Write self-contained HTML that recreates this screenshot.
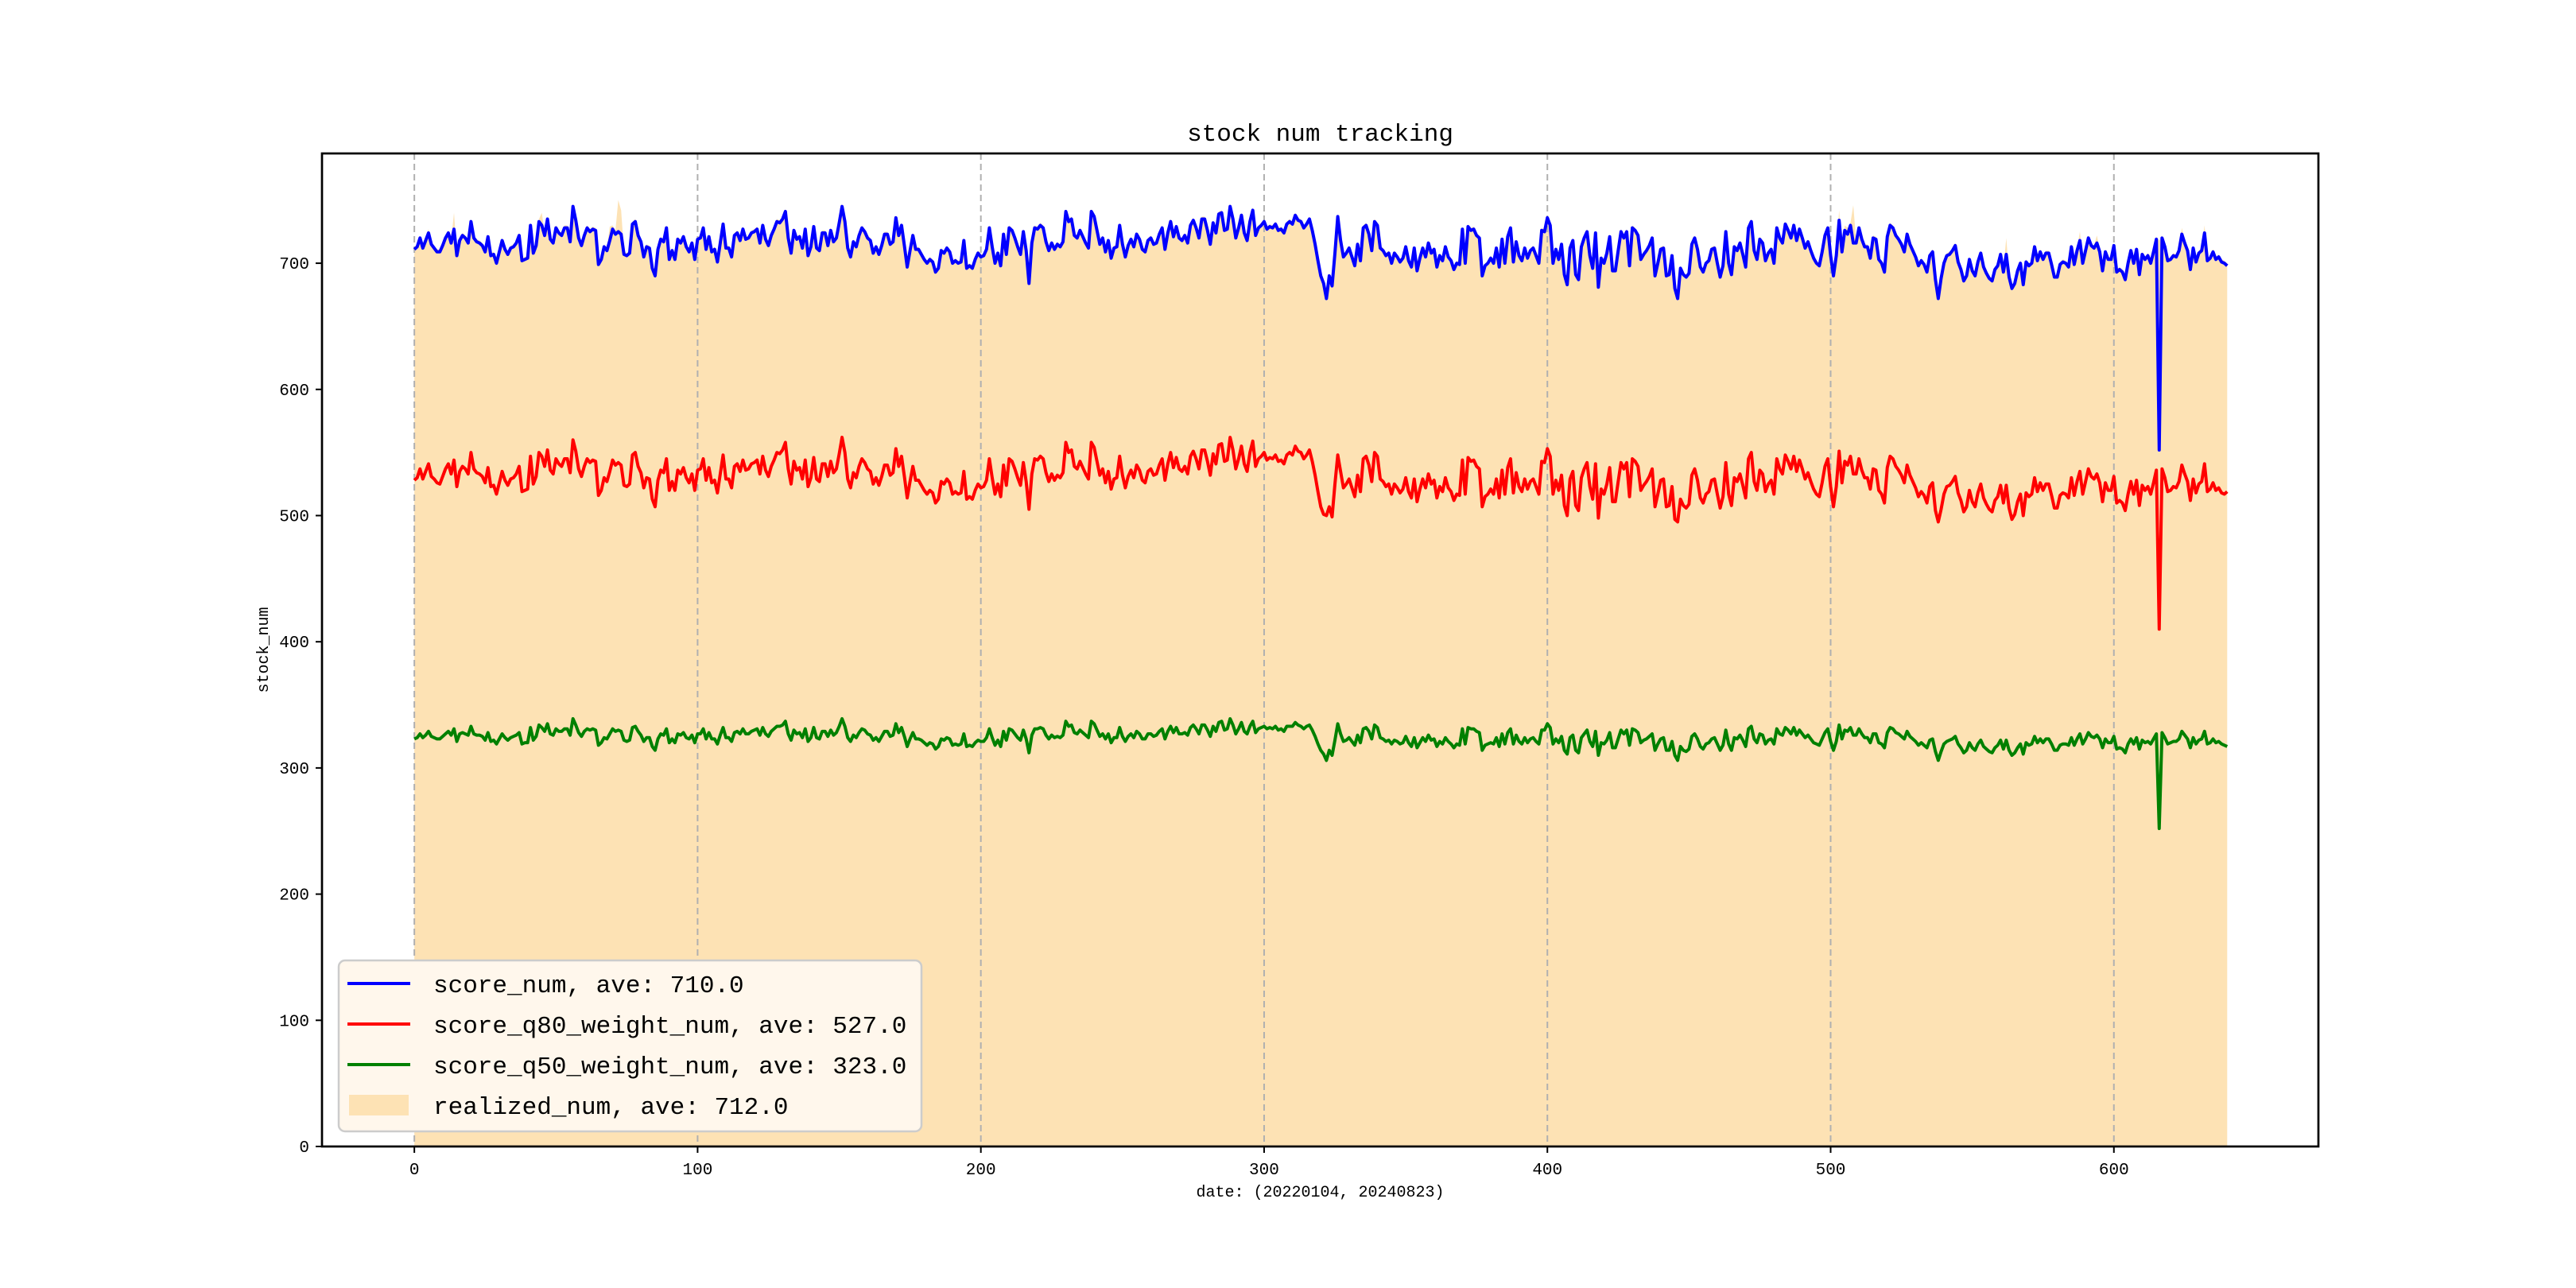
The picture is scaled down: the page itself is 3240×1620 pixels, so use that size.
<!DOCTYPE html>
<html><head><meta charset="utf-8"><title>stock num tracking</title>
<style>html,body{margin:0;padding:0;background:#fff;}svg{display:block;}</style></head>
<body>
<svg id="chart" width="3240" height="1620" viewBox="0 0 3240 1620" xmlns="http://www.w3.org/2000/svg"></svg>
<script>
const xTicks = [0,100,200,300,400,500,600];
const yTicks = [0,100,200,300,400,500,600,700];
const scoreNum = [
711,713,720,712,718,724,715,712,709,709,714,720,724,716,727,706,718,722,720,716,
733,720,717,716,714,709,721,706,707,700,709,718,711,707,712,713,716,722,702,703,
704,730,708,714,733,730,722,735,719,716,728,724,722,728,728,717,745,734,720,714,
722,728,725,727,726,699,703,713,710,718,727,723,725,723,707,706,708,731,733,722,
717,705,713,712,696,690,711,719,717,728,703,710,703,719,716,721,713,709,716,703,
719,720,728,711,721,709,711,701,716,731,712,712,705,722,724,718,727,719,720,724,
725,727,716,730,719,714,722,727,733,732,735,741,720,708,726,719,721,712,727,706,
713,729,712,710,724,724,714,726,717,720,732,745,733,712,705,717,713,722,728,725,
720,718,708,713,707,714,723,723,715,717,736,722,730,714,697,710,722,711,711,707,
703,700,703,701,693,696,710,708,712,709,700,702,700,701,718,696,698,696,703,708,
705,706,711,728,713,700,708,698,723,707,728,726,720,713,707,725,710,684,716,728,
727,730,728,717,710,716,711,715,713,717,741,733,735,722,720,726,721,716,712,741,
737,726,715,720,709,718,704,712,713,730,715,705,714,719,713,723,719,711,709,718,
720,715,716,723,728,711,724,733,721,729,720,718,722,716,730,734,728,720,735,735,
726,715,732,724,739,740,726,727,745,735,720,728,738,724,718,733,742,722,728,730,
733,727,729,728,731,726,727,724,731,733,731,738,734,733,728,731,735,726,715,702,
690,684,672,690,682,708,737,718,705,708,712,705,698,715,702,728,730,723,710,733,
730,712,710,706,708,700,708,705,701,704,713,702,697,712,694,704,712,705,716,708,
711,697,706,702,713,705,702,695,700,699,727,700,729,726,727,722,720,690,698,700,
704,700,712,697,719,700,721,728,701,717,706,702,712,704,710,712,706,700,726,725,
736,730,700,711,703,715,691,683,712,718,691,687,713,720,725,706,696,724,681,704,
700,708,721,694,694,710,725,720,725,698,728,726,722,703,707,710,714,720,690,700,
711,712,690,691,706,680,672,696,691,689,692,715,720,711,697,693,700,702,711,712,
700,689,698,725,700,691,713,710,716,707,697,728,733,710,703,719,716,702,708,711,
700,728,720,716,731,726,720,730,718,727,720,712,717,710,704,700,698,709,722,728,
706,690,706,734,709,726,723,730,716,716,728,719,713,713,704,720,719,703,700,693,
721,730,728,722,719,715,709,723,715,710,705,698,702,699,693,706,709,687,672,688,
700,706,707,710,714,701,695,686,690,703,694,690,701,708,697,692,688,686,695,698,
707,693,707,689,680,684,694,700,683,701,698,700,713,702,709,703,708,708,699,689,
689,699,701,700,697,713,699,710,718,700,710,720,714,712,716,709,694,709,703,703,
714,693,695,693,687,700,710,700,711,691,707,703,706,700,709,719,552,720,713,702,
703,706,705,710,723,716,710,695,712,701,708,710,724,702,704,709,703,705,701,700,
698];
const q80Num = [
528,530,537,529,535,541,531,529,526,525,531,537,541,533,544,523,535,539,537,533,
550,537,534,533,531,526,538,523,524,517,526,535,528,524,529,530,533,539,519,520,
521,547,525,531,550,547,539,552,536,533,545,541,539,545,545,534,560,551,537,531,
539,545,542,544,543,516,520,530,527,535,544,540,542,540,524,523,525,548,550,539,
534,522,530,529,513,507,528,536,534,545,520,527,520,536,533,538,530,526,533,520,
536,537,545,528,538,526,528,518,533,548,529,529,522,539,541,535,544,536,537,541,
542,544,533,547,536,531,539,544,550,549,552,558,537,525,543,536,538,529,544,523,
530,546,529,527,541,541,531,543,534,537,549,562,550,529,522,534,530,539,545,542,
537,535,525,530,524,531,540,540,532,534,553,539,547,531,514,527,539,528,528,524,
520,517,520,518,510,513,527,525,529,526,517,519,517,518,535,513,515,513,520,525,
522,523,528,545,530,517,525,515,540,524,545,543,537,530,524,542,527,505,533,545,
544,547,545,534,527,533,528,532,530,534,558,550,552,539,537,543,538,533,529,558,
554,543,532,537,526,535,521,529,530,547,532,522,531,536,530,540,536,528,526,535,
537,532,533,540,545,528,541,550,538,546,537,535,539,533,547,551,545,537,552,552,
543,532,549,541,556,557,543,544,562,552,537,545,555,541,535,550,559,539,545,547,
550,544,546,545,548,543,544,541,548,550,548,555,551,550,545,548,552,543,532,519,
507,501,500,507,499,525,548,535,522,525,529,522,515,532,519,545,547,540,527,550,
547,529,527,523,525,517,525,522,518,521,530,519,514,529,511,521,529,522,533,525,
528,514,523,519,530,522,519,512,517,516,544,517,546,543,544,539,537,507,515,517,
521,517,529,514,536,517,538,545,518,534,523,519,529,521,527,529,523,517,543,542,
553,547,517,528,520,532,508,500,529,535,508,504,530,537,542,523,513,541,498,521,
517,525,538,511,511,527,542,537,542,515,545,543,539,520,524,527,531,537,507,517,
528,529,507,508,523,497,495,513,508,506,509,532,537,528,514,510,517,519,528,529,
517,506,515,542,517,508,530,527,533,524,514,545,550,527,520,536,533,519,525,528,
517,545,537,533,548,543,537,547,535,544,537,529,534,527,521,517,515,526,539,545,
523,507,523,551,526,543,540,547,533,533,545,536,530,530,521,537,536,520,517,510,
538,547,545,539,536,532,526,540,532,527,522,515,519,516,510,523,526,504,495,505,
517,523,524,527,531,518,512,503,507,520,511,507,518,525,514,509,505,503,512,515,
524,510,524,506,497,501,511,517,500,518,515,517,530,519,526,520,525,525,516,506,
506,516,518,517,514,530,516,527,535,517,527,537,531,529,533,526,511,526,520,520,
531,510,512,510,504,517,527,517,528,508,524,520,523,517,526,536,410,537,530,519,
520,523,522,527,540,533,527,512,529,518,525,527,541,519,521,526,520,522,518,517,
519];
const q50Num = [
323,324,327,324,326,329,325,324,323,323,325,327,329,326,331,321,327,328,327,326,
333,327,326,326,325,322,328,321,322,319,323,327,324,322,324,325,326,328,319,320,
320,332,322,325,334,332,329,335,327,326,331,329,329,331,331,326,339,334,328,325,
329,331,330,331,330,318,320,324,323,327,331,329,330,329,322,321,322,332,333,329,
326,321,324,324,317,314,323,327,326,331,320,323,320,327,326,328,324,323,326,320,
327,327,331,323,328,323,323,319,326,332,324,324,321,328,329,327,331,327,327,329,
330,331,326,332,327,325,329,331,333,333,334,337,327,322,330,327,328,324,331,321,
324,332,324,323,329,329,325,330,326,328,333,339,333,324,321,326,324,328,331,330,
327,326,322,324,321,325,329,329,325,326,335,328,332,325,317,323,328,323,323,322,
320,318,320,319,315,317,323,322,324,323,318,319,318,319,327,317,318,317,320,322,
321,321,324,331,324,318,322,317,329,322,331,330,327,324,322,330,323,312,326,331,
331,332,331,326,323,326,324,325,324,326,337,333,334,328,327,330,328,326,324,337,
335,330,325,327,323,327,320,324,324,332,325,321,325,327,324,329,327,323,323,327,
327,325,326,329,331,323,329,333,328,332,327,327,328,326,332,334,331,327,334,334,
330,325,333,329,336,337,330,331,339,334,327,331,336,329,327,333,337,328,331,332,
333,331,332,331,333,330,331,329,333,333,333,336,334,333,331,333,334,330,325,319,
314,311,306,314,310,322,335,327,321,322,324,321,318,326,320,331,332,329,323,334,
332,324,323,321,322,319,322,321,319,320,325,320,317,324,316,320,324,321,326,322,
323,317,321,319,324,321,319,316,319,318,331,319,332,331,331,329,328,314,318,319,
320,319,324,317,327,319,328,331,319,326,321,319,324,320,323,324,321,319,330,330,
335,332,319,323,320,325,314,311,324,326,314,312,324,327,330,321,317,329,310,320,
319,322,328,316,316,323,330,327,330,318,331,330,328,320,322,323,325,327,314,319,
323,324,314,314,321,310,306,317,314,313,315,325,327,323,317,315,319,320,323,324,
319,314,318,330,319,314,324,323,326,322,317,331,333,323,320,327,326,319,322,323,
319,331,327,326,332,330,327,332,326,330,327,324,326,323,320,319,318,323,328,331,
321,314,321,334,323,330,329,332,326,326,331,327,324,324,320,327,327,320,319,316,
328,332,331,328,327,325,323,329,325,323,321,318,320,318,316,322,323,313,306,313,
319,321,322,323,325,319,316,312,314,320,316,314,319,322,317,315,313,312,316,318,
322,315,322,314,310,312,316,319,311,320,318,319,325,320,323,320,323,323,319,314,
314,318,319,319,318,324,318,323,327,319,323,328,325,324,326,323,316,323,320,320,
325,315,316,315,312,319,323,319,324,315,322,320,321,319,323,327,252,328,324,319,
320,321,321,323,329,326,323,316,324,319,322,323,329,319,320,323,320,321,319,318,
317];
const realizedNum = [
713,715,721,714,720,727,716,714,711,711,716,722,726,718,740,708,720,724,722,718,
735,722,719,718,716,711,723,708,709,702,711,720,713,709,714,715,718,724,704,705,
706,732,710,716,735,740,724,737,721,718,730,726,724,730,730,719,747,736,722,716,
724,730,727,729,728,701,705,715,712,729,730,726,750,742,710,708,710,733,735,724,
719,707,715,714,698,692,713,721,719,730,705,712,705,721,718,723,715,711,718,705,
721,722,730,713,723,711,713,703,718,733,714,714,707,724,726,720,729,721,722,726,
727,729,718,732,721,716,724,729,735,734,737,743,722,710,728,721,723,714,729,708,
715,731,714,712,726,726,716,728,719,722,734,747,735,714,707,719,715,724,730,727,
722,720,710,715,709,716,725,725,717,719,738,724,732,716,699,712,724,713,713,709,
705,702,705,703,695,698,712,710,714,711,702,704,702,703,720,698,700,698,705,710,
707,708,713,730,715,702,710,700,725,709,730,728,722,715,709,727,712,686,718,730,
729,732,730,719,712,718,713,717,715,719,743,735,737,724,722,728,723,718,714,743,
739,728,717,722,711,720,706,714,715,732,717,707,716,721,715,725,721,713,711,720,
722,717,718,725,730,713,726,735,723,731,722,720,724,718,732,736,730,722,737,737,
728,717,734,726,741,742,728,729,747,737,722,730,740,726,720,735,744,724,730,732,
735,729,731,730,733,728,729,726,733,735,733,740,736,735,730,733,737,728,717,704,
692,686,674,692,684,710,739,720,707,710,714,707,700,717,704,730,732,725,712,735,
732,714,712,708,710,702,710,707,703,706,715,704,699,714,696,706,714,707,718,710,
713,699,708,704,715,707,704,697,702,701,729,702,731,728,729,724,722,692,700,702,
706,702,714,699,721,702,723,730,703,719,708,704,714,706,712,714,708,702,728,727,
738,732,702,713,705,717,693,685,714,720,693,689,715,722,727,708,698,726,683,706,
702,710,723,696,696,712,727,722,727,700,730,728,724,705,709,712,716,722,692,702,
713,714,692,693,708,682,674,698,693,691,694,717,722,713,699,695,702,704,713,714,
702,691,700,727,702,693,715,712,718,709,699,730,735,712,705,721,718,704,710,713,
702,730,722,718,733,728,722,732,720,729,722,714,719,712,706,702,700,711,724,730,
708,692,708,742,711,730,728,732,746,718,730,721,715,715,706,722,721,705,702,695,
723,732,730,724,721,717,711,725,717,712,707,700,704,701,695,708,711,689,674,690,
702,708,709,712,716,703,697,688,692,705,696,692,703,710,699,694,690,688,697,700,
709,695,720,691,682,686,696,702,685,703,700,702,715,704,711,705,710,710,701,691,
691,701,703,702,699,715,701,712,725,702,712,722,716,714,722,711,696,711,705,705,
716,695,697,695,689,702,712,702,713,693,709,705,708,702,711,721,718,722,715,704,
705,708,707,712,728,718,712,697,714,703,710,712,730,704,706,711,705,707,703,702,
700];
const legendLabels = ["score_num, ave: 710.0","score_q80_weight_num, ave: 527.0","score_q50_weight_num, ave: 323.0","realized_num, ave: 712.0"];

const NS = "http://www.w3.org/2000/svg";
const svg = document.getElementById("chart");
const AX = {left:405, right:2916, top:193, bottom:1442};
const xMin = -32.6, xMax = 672.2, yMin = 0, yMax = 787;
function xs(v){ return AX.left + (v - xMin) / (xMax - xMin) * (AX.right - AX.left); }
function ys(v){ return AX.bottom - (v - yMin) / (yMax - yMin) * (AX.bottom - AX.top); }
function mk(tag, attrs, parent){
  const e = document.createElementNS(NS, tag);
  for (const k in attrs) e.setAttribute(k, attrs[k]);
  (parent || svg).appendChild(e);
  return e;
}
const FONT = '"Liberation Mono", "WenQuanYi Zen Hei", monospace';

// realized fill
let fd = "M" + xs(0) + "," + ys(0);
realizedNum.forEach((v,i)=>{ fd += " L" + xs(i).toFixed(2) + "," + ys(v).toFixed(2); });
fd += " L" + xs(realizedNum.length-1) + "," + ys(0) + " Z";
const fill = mk("path", {d:fd, fill:"#fde2b4", stroke:"none"});



// grid
xTicks.forEach(t=>{
  const g = mk("line", {x1:xs(t), x2:xs(t), y1:AX.top, y2:AX.bottom, stroke:"#b0b0b0", "stroke-width":2, "stroke-dasharray":"8,5"});
  
  
});

function drawLine(arr, color, name){
  let d = "";
  arr.forEach((v,i)=>{ d += (i?" L":"M") + xs(i).toFixed(2) + "," + ys(v).toFixed(2); });
  const p = mk("path", {d:d, fill:"none", stroke:color, "stroke-width":4, "stroke-linejoin":"round"});
  
  
}
drawLine(scoreNum, "#0000ff", "score-num-line");
drawLine(q80Num, "#ff0000", "score-q80-line");
drawLine(q50Num, "#008000", "score-q50-line");

// axes frame
const frame = mk("rect", {x:AX.left, y:AX.top, width:AX.right-AX.left, height:AX.bottom-AX.top, fill:"none", stroke:"#000", "stroke-width":2.7});



// ticks
xTicks.forEach(t=>{
  const tk = mk("line", {x1:xs(t), x2:xs(t), y1:AX.bottom, y2:AX.bottom+8, stroke:"#000", "stroke-width":2});
  
  
  const tl = mk("text", {x:xs(t), y:AX.bottom+35, "text-anchor":"middle", "font-family":FONT, "font-size":21});
  tl.textContent = t;
  
  
});
yTicks.forEach(t=>{
  const tk = mk("line", {x1:AX.left-8, x2:AX.left, y1:ys(t), y2:ys(t), stroke:"#000", "stroke-width":2});
  
  
  const tl = mk("text", {x:AX.left-16, y:ys(t)+7, "text-anchor":"end", "font-family":FONT, "font-size":21});
  tl.textContent = t;
  
  
});

// title and labels
const title = mk("text", {x:(AX.left+AX.right)/2, y:177, "text-anchor":"middle", "font-family":FONT, "font-size":31});
title.textContent = "stock num tracking";


const xl = mk("text", {x:(AX.left+AX.right)/2, y:1505, "text-anchor":"middle", "font-family":FONT, "font-size":20});
xl.textContent = "date: (20220104, 20240823)";


const yl = mk("text", {x:0, y:0, "text-anchor":"middle", "font-family":FONT, "font-size":20, transform:"translate(337,"+((AX.top+AX.bottom)/2)+") rotate(-90)"});
yl.textContent = "stock_num";



// legend
const lg = mk("g", {});


const lbox = mk("rect", {x:426, y:1208, width:733, height:215, rx:8, fill:"#fff7ec", stroke:"#cccccc", "stroke-width":2.5}, lg);


const legColors = ["#0000ff","#ff0000","#008000"];
legendLabels.forEach((lab,i)=>{
  const cy = 1237 + i*51;
  if (i < 3) {
    const h = mk("line", {x1:437, x2:516, y1:cy, y2:cy, stroke:legColors[i], "stroke-width":4}, lg);
    
    
  } else {
    const h = mk("rect", {x:439, y:cy-13, width:75, height:26, fill:"#fde2b4"}, lg);
    
    
  }
  const t = mk("text", {x:545, y:cy+11, "font-family":FONT, "font-size":31}, lg);
  t.textContent = lab;
  
  
});
</script>
</body></html>
